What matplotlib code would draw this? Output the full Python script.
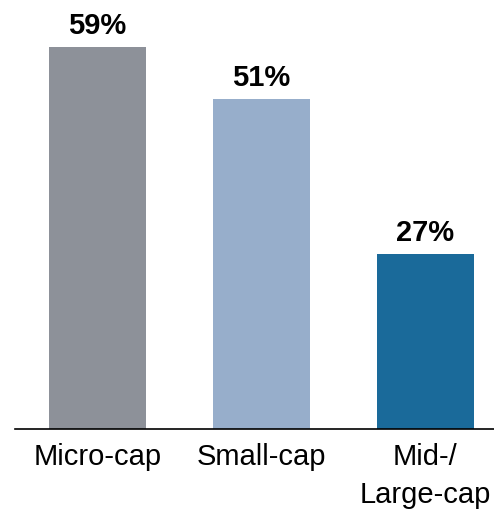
import matplotlib.pyplot as plt

categories = ["Micro-cap", "Small-cap", "Mid-/\nLarge-cap"]
values = [59, 51, 27]
colors = ["#8d9199", "#97aecb", "#1a6a9a"]

plt.rcParams['font.family'] = ['Liberation Sans Narrow', 'Liberation Sans', 'DejaVu Sans']

fig = plt.figure(figsize=(4.94, 5.15), dpi=100)
ax = fig.add_axes([15 / 494, 86 / 515, 479 / 494, 420.6 / 515])

x = range(len(categories))
bars = ax.bar(x, values, width=0.59, color=colors)

for xi, v in zip(x, values):
    ax.annotate(f"{v}%", (xi, v), xytext=(0, 5), textcoords="offset points",
                ha="center", va="bottom", fontsize=21, fontweight="bold")

ax.set_xlim(-0.503, 2.42)
ax.set_ylim(0, 65)
ax.set_xticks(list(x))
ax.set_xticklabels(categories, fontsize=21, linespacing=1.45)
ax.tick_params(axis="x", length=0, pad=10)
ax.set_yticks([])
for s in ["top", "right", "left"]:
    ax.spines[s].set_visible(False)
ax.spines["bottom"].set_linewidth(1.2)

fig.savefig("out.png", dpi=100)
